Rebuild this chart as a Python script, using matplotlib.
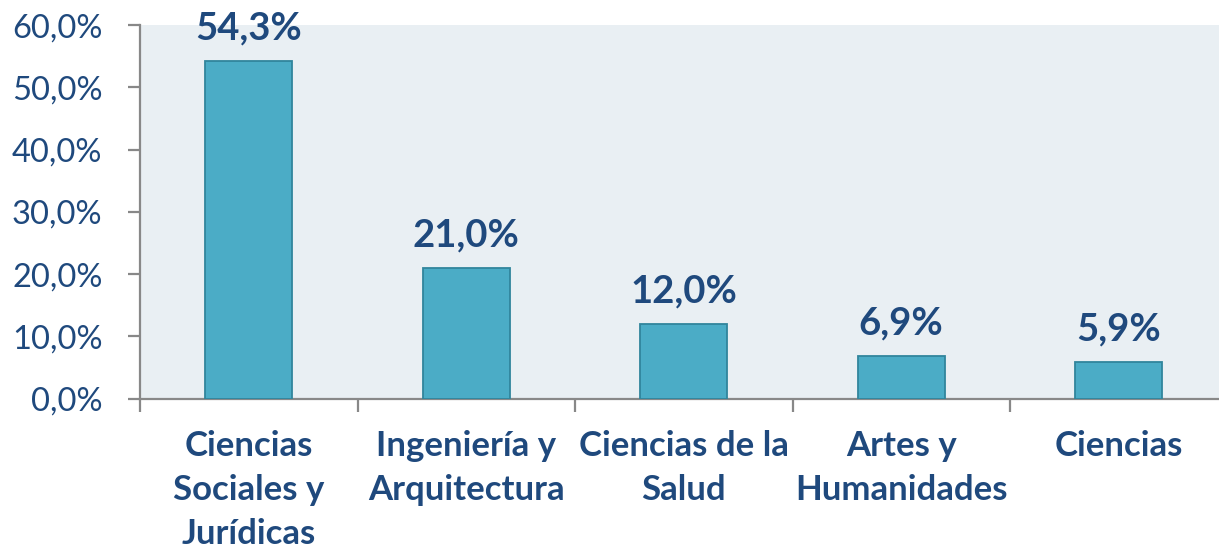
import matplotlib
matplotlib.use("Agg")
import matplotlib.pyplot as plt
import numpy as np

categories = ["Ciencias\nSociales y\nJurídicas", "Ingeniería y\nArquitectura",
              "Ciencias de la\nSalud", "Artes y\nHumanidades", "Ciencias"]
values = [54.3, 21.0, 12.0, 6.9, 5.9]
yticks = [0, 10, 20, 30, 40, 50, 60]

plt.rcParams['font.family'] = ['Lato', 'DejaVu Sans']
txt = '#1F497D'

W, H = 1219, 552
fig = plt.figure(figsize=(W/100, H/100), dpi=100)
left, right, top, bottom = 140, 1227.5, 25.2, 398.5
ax = fig.add_axes([left/W, 1-bottom/H, (right-left)/W, (bottom-top)/H])
ax.set_facecolor('#E9EFF3')

x = np.arange(len(values))
bars = ax.bar(x, values, width=0.4, color='#4BACC6', edgecolor='#31859C', linewidth=1.3, zorder=3)
ax.set_xlim(-0.5, len(values)-0.5)
ax.set_ylim(0, 60)
ax.set_yticks(yticks)
ax.set_yticklabels([f"{v:.1f}%".replace('.', ',') for v in yticks], fontsize=23.5, color=txt)
ax.set_xticks(x)
ax.set_xticklabels(categories, fontsize=25, fontweight='bold', color=txt, linespacing=1.46, va='top')
ax.set_xticks(np.arange(len(values)+1)-0.5, minor=True)
ax.tick_params(axis='x', which='major', length=0, pad=23)
ax.tick_params(axis='x', which='minor', length=9, width=1.6, color='#888888', direction='out')
ax.tick_params(axis='y', length=9, width=1.6, color='#888888', pad=18)
for s in ['top', 'right']:
    ax.spines[s].set_visible(False)
for s in ['left', 'bottom']:
    ax.spines[s].set_color('#888888')
    ax.spines[s].set_linewidth(1.6)

for b, v in zip(bars, values):
    ax.annotate(f"{v:.1f}%".replace('.', ','), (b.get_x()+b.get_width()/2, v),
                xytext=(0, 11), textcoords='offset points', ha='center', va='bottom',
                fontsize=27.5, fontweight='bold', color=txt)

fig.savefig('out.png', dpi=100)
